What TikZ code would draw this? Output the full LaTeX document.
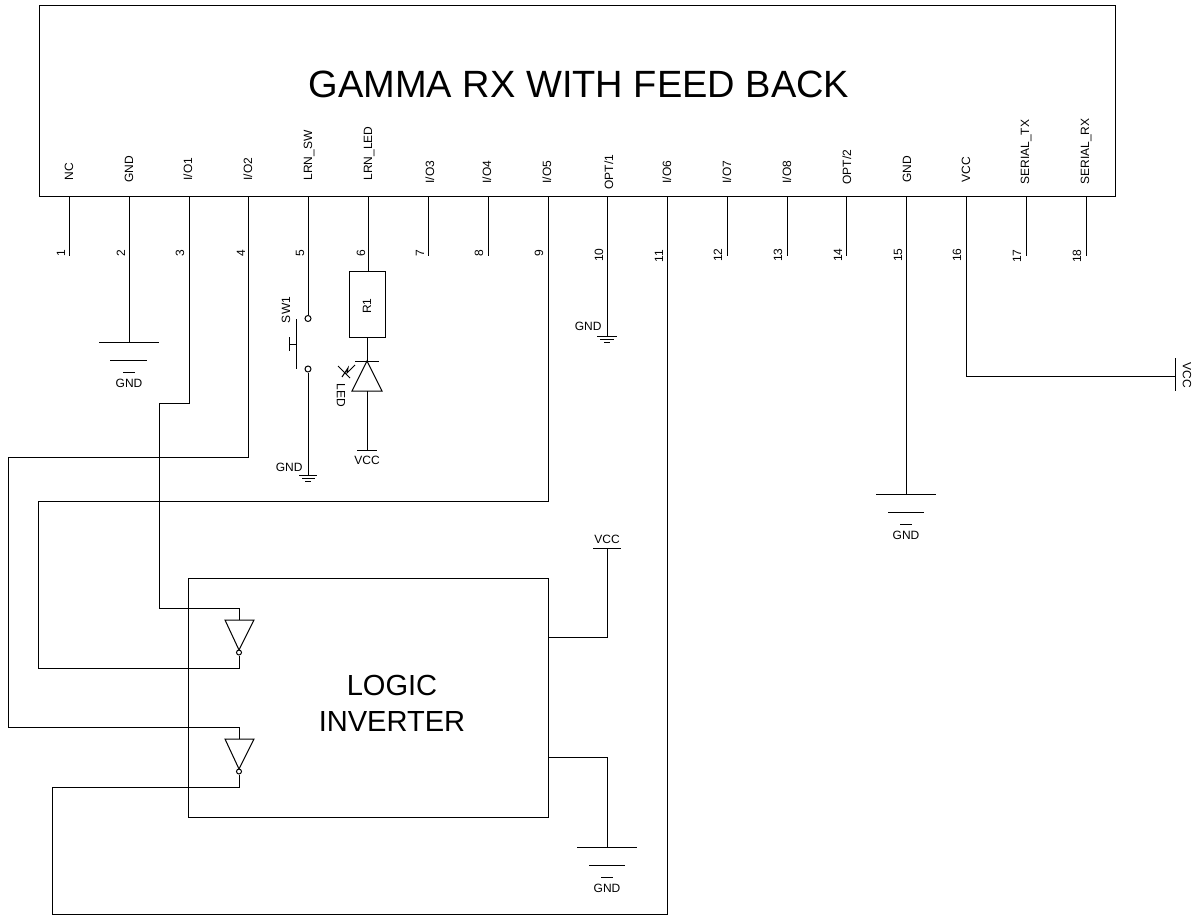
\documentclass[tikz,border=0pt]{standalone}
\usepackage{fontspec}
\setmainfont{Liberation Sans}
\tikzset{every picture/.style={line width=0.75pt}}
\tikzset{
  boxshape/.style={draw,rectangle,inner sep=0pt},
  pinname/.style={rotate=90,anchor=base west,inner sep=0pt,font=\fontsize{9}{11}\selectfont},
  pinnum/.style={rotate=90,anchor=base,inner sep=0pt,font=\fontsize{9}{11}\selectfont},
  smalltext/.style={inner sep=0pt,font=\fontsize{9}{11}\selectfont},
  bubble/.style={draw,circle,inner sep=0pt,minimum size=3.75pt},
  swdot/.style={draw,circle,inner sep=0pt,minimum size=4.5pt}
}

\begin{document}
\begin{tikzpicture}[x=0.75pt,y=0.75pt,yscale=-1,xscale=1]
	\useasboundingbox (0,0) rectangle (1195,916);

	% Boxes
	\node (rxbox) [boxshape,minimum width=807pt,minimum height=143.25pt] at (577,101.5) {};
	\node (invbox) [boxshape,minimum width=270pt,minimum height=179.25pt] at (368,697.5) {};
	\node (resone) [boxshape,minimum width=27pt,minimum height=48.75pt] at (367,304.5) {};

	% Text Node
	\node (title) [inner sep=0pt,font=\fontsize{28.5}{32}\selectfont] at (579,84) {GAMMA RX WITH FEED BACK};
	\node (logictext) [inner sep=0pt,font=\fontsize{21.8}{26}\selectfont] at (392,685) {LOGIC};
	\node (invtext) [inner sep=0pt,font=\fontsize{21.8}{26}\selectfont] at (392,721) {INVERTER};
	\node (resname) [smalltext,rotate=90] at (367,306) {R1};

	% Pin names
	\node (name1) [pinname] at (73,181) {NC};
	\node (name2) [pinname] at (133,183) {GND};
	\node (name3) [pinname] at (192,181) {I/O1};
	\node (name4) [pinname] at (252,181) {I/O2};
	\node (name5) [pinname] at (312,181) {LRN\_SW};
	\node (name6) [pinname] at (372,181) {LRN\_LED};
	\node (name7) [pinname] at (434,184) {I/O3};
	\node (name8) [pinname] at (491,184) {I/O4};
	\node (name9) [pinname] at (551,184) {I/O5};
	\node (name10) [pinname] at (613,190) {OPT/1};
	\node (name11) [pinname] at (671,184) {I/O6};
	\node (name12) [pinname] at (731,184) {I/O7};
	\node (name13) [pinname] at (791,184) {I/O8};
	\node (name14) [pinname] at (851,185) {OPT/2};
	\node (name15) [pinname] at (911,183) {GND};
	\node (name16) [pinname] at (970,183) {VCC};
	\node (name17) [pinname] at (1029,185) {SERIAL\_TX};
	\node (name18) [pinname] at (1089,185) {SERIAL\_RX};

	% Pin numbers
	\node (num1) [pinnum] at (65,253) {1};
	\node (num2) [pinnum] at (125,253) {2};
	\node (num3) [pinnum] at (184,253) {3};
	\node (num4) [pinnum] at (245,253) {4};
	\node (num5) [pinnum] at (304,253) {5};
	\node (num6) [pinnum] at (365,253) {6};
	\node (num7) [pinnum] at (424,253) {7};
	\node (num8) [pinnum] at (483,253) {8};
	\node (num9) [pinnum] at (543,253) {9};
	\node (num10) [pinnum] at (603,255) {10};
	\node (num11) [pinnum] at (663,256) {11};
	\node (num12) [pinnum] at (722,255) {12};
	\node (num13) [pinnum] at (782,255) {13};
	\node (num14) [pinnum] at (842,255) {14};
	\node (num15) [pinnum] at (902,255) {15};
	\node (num16) [pinnum] at (961,255) {16};
	\node (num17) [pinnum] at (1021,256) {17};
	\node (num18) [pinnum] at (1081,256) {18};

	% Pins that stop short
	\coordinate (top1) at (69,197);    \coordinate (end1) at (69,256);
	\coordinate (top7) at (428,197);   \coordinate (end7) at (428,256);
	\coordinate (top8) at (488,197);   \coordinate (end8) at (488,256);
	\coordinate (top12) at (727,197);  \coordinate (end12) at (727,256);
	\coordinate (top13) at (787,197);  \coordinate (end13) at (787,256);
	\coordinate (top14) at (846,197);  \coordinate (end14) at (846,256);
	\coordinate (top17) at (1026,197); \coordinate (end17) at (1026,256);
	\coordinate (top18) at (1086,197); \coordinate (end18) at (1086,256);
	\draw (top1) -- (end1);
	\draw (top7) -- (end7);
	\draw (top8) -- (end8);
	\draw (top12) -- (end12);
	\draw (top13) -- (end13);
	\draw (top14) -- (end14);
	\draw (top17) -- (end17);
	\draw (top18) -- (end18);

	% GND on pin 2
	\coordinate (top2) at (129,197);
	\coordinate (gndtwo) at (129,342);
	\draw (top2) -- (gndtwo);
	\draw (99,342) -- (159,342);
	\draw (110,360) -- (147,360);
	\draw (123,372) -- (135,372);
	\node (gndtwotext) [smalltext] at (129,383) {GND};

	% GND on pin 15
	\coordinate (top15) at (906,197);
	\coordinate (gndfif) at (906,494);
	\draw (top15) -- (gndfif);
	\draw (876,494) -- (936,494);
	\draw (888,512) -- (924,512);
	\draw (900,524) -- (912,524);
	\node (gndfiftext) [smalltext] at (906,535) {GND};

	% GND on pin 10
	\coordinate (top10) at (607,197);
	\coordinate (gndten) at (607,336);
	\draw (top10) -- (gndten);
	\draw (597,336) -- (617,336);
	\draw (600,339) -- (614,339);
	\draw (604,342) -- (610,342);
	\node (gndtentext) [smalltext,anchor=east] at (602,326) {GND};

	% VCC on pin 16
	\coordinate (top16) at (966,197);
	\coordinate (vccbend) at (966,376);
	\coordinate (vccright) at (1175,376);
	\draw (top16) -- (vccbend) -- (vccright);
	\draw (1175,358) -- (1175,391);
	\node (vccrighttext) [smalltext,rotate=-90] at (1187,375) {VCC};

	% Switch on pin 5
	\coordinate (top5) at (308,197);
	\node (swtop) [swdot] at (308,318.5) {};
	\node (swbot) [swdot] at (308,369) {};
	\coordinate (gndsw) at (308,475);
	\draw (top5) -- (swtop);
	\draw (swbot) -- (gndsw);
	\draw (296,319) -- (296,369);
	\draw (296,344) -- (289,344);
	\draw (289,337) -- (289,351);
	\node (swname) [smalltext,rotate=90] at (286,310) {SW1};
	\draw (299,475) -- (317,475);
	\draw (302,478) -- (315,478);
	\draw (305,481) -- (311,481);
	\node (gndswtext) [smalltext,anchor=east] at (303,467) {GND};

	% LED on pin 6
	\coordinate (top6) at (368,197);
	\coordinate (ledtop) at (367,361);
	\coordinate (ledbot) at (367,391);
	\coordinate (vccled) at (367,450);
	\draw (top6) -- (resone.north -| top6);
	\draw (resone.south) -- (ledtop);
	\draw (ledtop) -- (352,391) -- (382,391) -- cycle;
	\draw (355,361) -- (379,361);
	\draw (ledbot) -- (vccled);
	\draw (357,450) -- (377,450);
	\node (vccledtext) [smalltext] at (367,460) {VCC};
	\draw (338,366) -- (350,378);
	\draw (342,377) -- (348,368) -- (347,373) -- (355,365);
	\node (ledname) [smalltext,rotate=-90] at (341,395) {LED};

	% Inverters
	\draw (225,620) -- (254,620) -- (239,650) -- cycle;
	\node (bubone) [bubble] at (239,652.5) {};
	\draw (225,739) -- (254,739) -- (239,769) -- cycle;
	\node (bubtwo) [bubble] at (239,771.5) {};

	% Pin 3 into first inverter
	\coordinate (top3) at (189,197);
	\coordinate (wa) at (189,403);
	\coordinate (wb) at (159,403);
	\coordinate (wc) at (159,608);
	\coordinate (wd) at (239,608);
	\coordinate (we) at (239,620);
	\draw (top3) -- (wa) -- (wb) -- (wc) -- (wd) -- (we);

	% First inverter out to pin 9
	\coordinate (top9) at (548,197);
	\coordinate (xa) at (239,668);
	\coordinate (xb) at (38,668);
	\coordinate (xc) at (38,501);
	\coordinate (xd) at (548,501);
	\draw (bubone.south) -- (xa) -- (xb) -- (xc) -- (xd) -- (top9);

	% Pin 4 into second inverter
	\coordinate (top4) at (248,197);
	\coordinate (ya) at (248,457);
	\coordinate (yb) at (8,457);
	\coordinate (yc) at (8,727);
	\coordinate (yd) at (239,727);
	\coordinate (ye) at (239,739);
	\draw (top4) -- (ya) -- (yb) -- (yc) -- (yd) -- (ye);

	% Second inverter out to pin 11
	\coordinate (top11) at (667,197);
	\coordinate (za) at (239,787);
	\coordinate (zb) at (52,787);
	\coordinate (zc) at (52,914);
	\coordinate (zd) at (667,914);
	\draw (bubtwo.south) -- (za) -- (zb) -- (zc) -- (zd) -- (top11);

	% Inverter box supply
	\coordinate (vcca) at (548,637);
	\coordinate (vccb) at (607,637);
	\coordinate (vccc) at (607,548);
	\draw (vcca) -- (vccb) -- (vccc);
	\draw (593,548) -- (621,548);
	\node (vcctext) [smalltext] at (607,539) {VCC};
	\coordinate (gnda) at (548,757);
	\coordinate (gndb) at (607,757);
	\coordinate (gndc) at (607,847);
	\draw (gnda) -- (gndb) -- (gndc);
	\draw (577,847) -- (637,847);
	\draw (589,865) -- (625,865);
	\draw (601,877) -- (613,877);
	\node (gndtext) [smalltext] at (607,888) {GND};

\end{tikzpicture}
\end{document}
